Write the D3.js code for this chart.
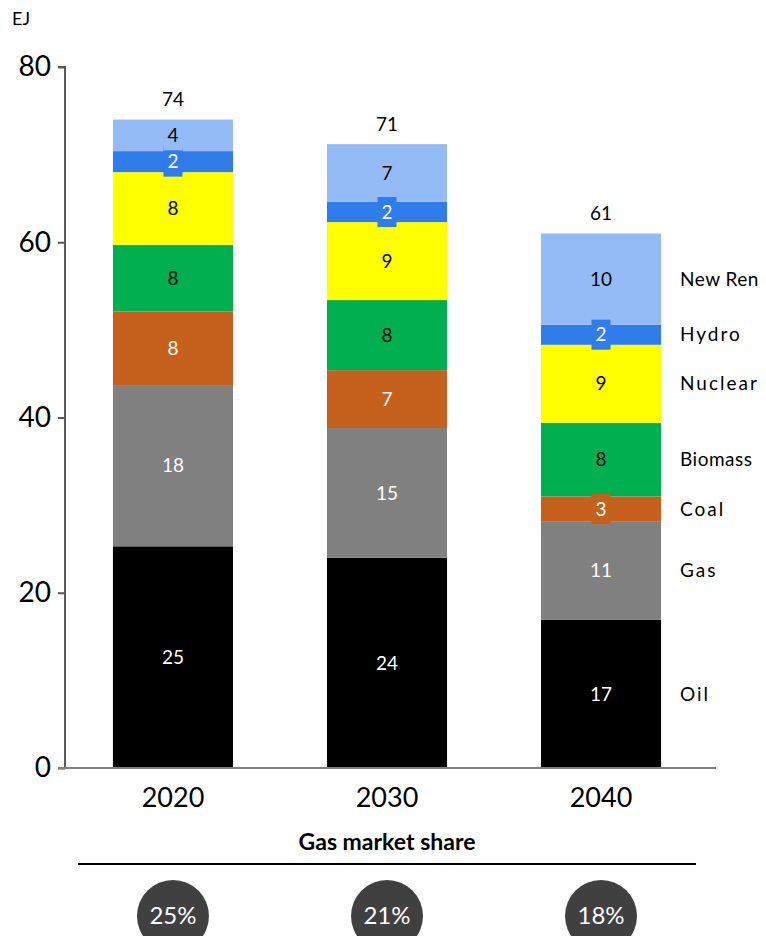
<!DOCTYPE html>
<html><head><meta charset="utf-8">
<script src="https://cdn.jsdelivr.net/npm/d3@7"></script>
<style>body{margin:0;background:#fff}svg{display:block;font-family:Lato,"Open Sans",sans-serif}</style>
</head><body><svg id="c" width="766" height="936"></svg>
<script>
const years = ["2020","2030","2040"];
const seriesNames = ["Oil","Gas","Coal","Biomass","Nuclear","Hydro","New Ren"];
const oil = [25.3, 24.0, 16.9];
const gas = [18.4, 14.8, 11.2];
const coal = [8.4, 6.6, 2.9];
const biomass = [7.6, 8.0, 8.4];
const nuclear = [8.3, 8.9, 8.9];
const hydro = [2.4, 2.3, 2.3];
const newRen = [3.6, 6.6, 10.4];
const gasShare = ["25%","21%","18%"];
const yTicks = [0,20,40,60,80];

const seriesValues = [oil,gas,coal,biomass,nuclear,hydro,newRen];
const colors = ["#000000","#808080","#C5611C","#00B050","#FFFF00","#2F7DEB","#95BBF7"];
const textColors = ["#fff","#fff","#fff","#000","#000","#fff","#000"];

const svg = d3.select("#c");
const y = d3.scaleLinear().domain([0,80]).range([768,67]);
const x = d3.scaleBand().domain(years).range([65,709]).paddingInner(0.439).paddingOuter(0.224);

const rows = years.map((yr,i)=>{const o={year:yr}; seriesNames.forEach((s,j)=>o[s]=seriesValues[j][i]); return o;});
const stack = d3.stack().keys(seriesNames)(rows);

// bars
stack.forEach((layer,j)=>{
  svg.append("g").selectAll("rect").data(layer).join("rect")
    .attr("x",d=>x(d.data.year)).attr("width",x.bandwidth())
    .attr("y",d=>y(d[1])).attr("height",d=>y(d[0])-y(d[1]))
    .attr("fill",colors[j]);
});
// labels with backgrounds
stack.forEach((layer,j)=>{
  layer.forEach(d=>{
    const cx = x(d.data.year)+x.bandwidth()/2;
    const cy = (y(d[0])+y(d[1]))/2;
    const g = svg.append("g");
    const t = g.append("text").attr("x",cx).attr("y",cy).attr("dy","0.35em")
      .attr("text-anchor","middle").attr("font-size",19).attr("fill",textColors[j])
      .text(d3.format(".0f")(d[1]-d[0]));
    const bb = t.node().getBBox();
    g.insert("rect","text").attr("x",cx-(bb.width+8)/2).attr("y",cy-15).attr("width",bb.width+8).attr("height",30).attr("fill",colors[j]);
  });
});
// totals
rows.forEach((r,i)=>{
  const tot = d3.sum(seriesValues,s=>s[i]);
  svg.append("text").attr("x",x(r.year)+x.bandwidth()/2).attr("y",y(tot)-20)
    .attr("dy","0.35em").attr("text-anchor","middle").attr("font-size",19).attr("fill","#000")
    .text(d3.format(".0f")(tot));
});
// legend labels at right aligned with 2040 segments
const last = years.length-1;
stack.forEach((layer,j)=>{
  const d = layer[last];
  const t = svg.append("text").attr("x",680).attr("y",(y(d[0])+y(d[1]))/2).attr("dy","0.35em")
    .attr("font-size",19).attr("letter-spacing","2px").attr("fill","#000").text(seriesNames[j]);
  const w = t.node().getComputedTextLength();
  if (680 + w > 762) t.attr("letter-spacing","0.5px");
});
// y axis
const ya = svg.append("g").attr("transform","translate(65,0)")
  .call(d3.axisLeft(y).tickValues(yTicks).tickSize(7).tickPadding(7).tickFormat(d3.format("d")));
ya.select(".domain").attr("stroke","#595959").attr("stroke-width",2).attr("d","M-7,67H0V768");
ya.selectAll(".tick line").attr("stroke","#595959").attr("stroke-width",2);
ya.selectAll(".tick text").attr("font-size",28).attr("fill","#000").attr("font-family","Lato,sans-serif");
// x axis
const xa = svg.append("g").attr("transform","translate(0,768)")
  .call(d3.axisBottom(x).tickSize(0).tickPadding(20));
xa.select(".domain").attr("stroke","#808080").attr("stroke-width",2).attr("d","M58,0H716");
xa.selectAll(".tick text").attr("font-size",27).attr("fill","#000").attr("font-family","Lato,sans-serif");
// EJ
svg.append("text").attr("x",12).attr("y",25).attr("font-size",18).attr("fill","#000").text("EJ");
// Gas market share
svg.append("text").attr("x",387).attr("y",850).attr("text-anchor","middle").attr("font-size",23)
  .attr("font-weight","bold").attr("fill","#000").text("Gas market share");
svg.append("line").attr("x1",78).attr("x2",696).attr("y1",864).attr("y2",864).attr("stroke","#000").attr("stroke-width",2);
years.forEach((yr,i)=>{
  const cx = x(yr)+x.bandwidth()/2;
  svg.append("circle").attr("cx",cx).attr("cy",916).attr("r",36).attr("fill","#404040");
  svg.append("text").attr("x",cx).attr("y",916).attr("dy","0.35em").attr("text-anchor","middle")
    .attr("font-size",24).attr("fill","#fff").text(gasShare[i]);
});
</script></body></html>
